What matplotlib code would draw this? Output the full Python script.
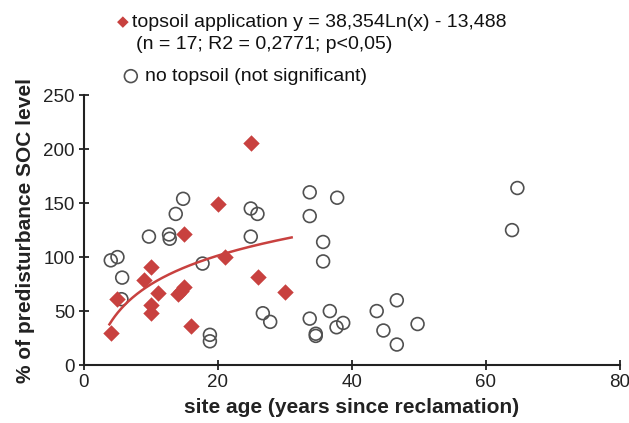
import numpy as np
import matplotlib
matplotlib.use("Agg")
import matplotlib.pyplot as plt

plt.rcParams['font.family'] = ['Liberation Sans', 'DejaVu Sans']

# topsoil application (n = 17)
top_age = [4, 5, 9, 10, 11, 10, 10, 14, 14.5, 15, 15, 16, 20, 21, 25, 26, 30]
top_soc = [30, 61, 79, 91, 67, 56, 48, 66, 69, 72, 121, 36, 149, 100, 206, 82, 68]

# no topsoil
no_age = [4, 5, 5.7, 5.6, 9.7, 12.7, 12.8, 13.7, 14.8, 17.7, 18.8, 18.8,
          24.9, 25.9, 24.9, 26.7, 27.8, 33.7, 33.7, 37.8, 35.7, 35.7, 33.7,
          34.6, 34.6, 36.7, 37.7, 38.7, 43.7, 46.7, 44.7, 46.7, 49.8, 63.9, 64.7]
no_soc = [97, 100, 81, 61, 119, 121, 117, 140, 154, 94, 28, 22,
          145, 140, 119, 48, 40, 160, 138, 155, 114, 96, 43,
          29, 27, 50, 35, 39, 50, 60, 32, 19, 38, 125, 164]

# logarithmic fit given on the chart
fit_a, fit_b = 38.354, -13.488
fit_range = (3.8, 31)

red = '#c8413f'

fig = plt.figure(figsize=(6.29, 4.23), dpi=100)
ax = fig.add_axes([0.1335, 0.137, 0.852, 0.638])

ax.scatter(no_age, no_soc, s=85, facecolors='none', edgecolors='#505050',
           linewidths=1.2, zorder=2)
ax.scatter(top_age, top_soc, s=70, marker='D', color=red, linewidths=0,
           zorder=3)

xf = np.linspace(fit_range[0], fit_range[1], 200)
ax.plot(xf, fit_a * np.log(xf) + fit_b, color=red, lw=1.8, zorder=4)

ax.set_xlim(0, 80)
ax.set_ylim(0, 250)
ax.set_xticks([0, 20, 40, 60, 80])
ax.set_yticks([0, 50, 100, 150, 200, 250])
for s in ['top', 'right']:
    ax.spines[s].set_visible(False)
for s in ['left', 'bottom']:
    ax.spines[s].set_linewidth(1.5)
    ax.spines[s].set_color('#222222')
ax.tick_params(direction='inout', length=7, width=1.3, labelsize=13.5,
               colors='#222222', pad=3)

ax.set_xlabel('site age (years since reclamation)', fontsize=15,
              fontweight='bold', color='#222222', labelpad=5)
ax.set_ylabel('% of predisturbance SOC level', fontsize=15,
              fontweight='bold', color='#222222', labelpad=6)

# legend-like text block
fig.text(0.186, 0.947, '\u25c6', color=red, fontsize=11, va='center')
fig.text(0.210, 0.947, 'topsoil application y = 38,354Ln(x) - 13,488',
         fontsize=14, va='center', color='#111111')
fig.text(0.216, 0.895, '(n = 17; R2 = 0,2771; p<0,05)',
         fontsize=14, va='center', color='#111111')
ax.scatter([0.208], [0.820], s=85, facecolors='none', edgecolors='#505050',
           linewidths=1.2, transform=fig.transFigure, clip_on=False)
fig.text(0.230, 0.820, 'no topsoil (not significant)',
         fontsize=14, va='center', color='#111111')

fig.savefig('out.png', dpi=100)
